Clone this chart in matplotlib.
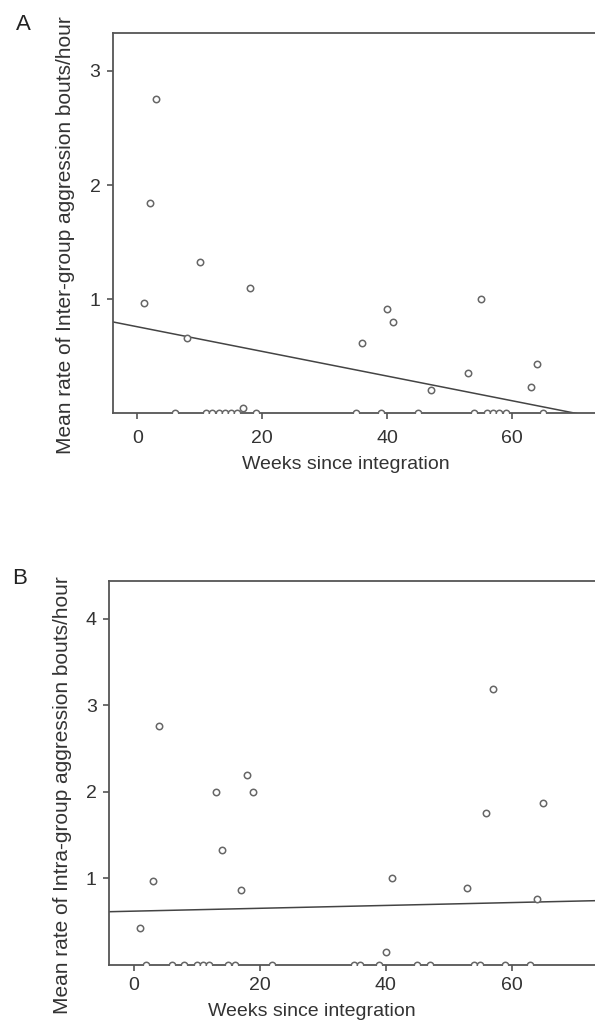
import matplotlib.pyplot as plt

plt.rcParams['font.family'] = ['Liberation Sans', 'DejaVu Sans']

# Panel A: inter-group aggression (weeks since integration, bouts/hour)
weeks_a = [1, 2, 3, 8, 10, 17, 18, 36, 40, 41, 47, 53, 55, 63, 64,
           6, 11, 12, 13, 14, 15, 16, 19, 35, 39, 45, 54, 56, 57, 58, 59, 65]
rate_a = [0.97, 1.84, 2.75, 0.66, 1.33, 0.05, 1.10, 0.62, 0.91, 0.80, 0.20, 0.35, 1.00, 0.23, 0.43,
          0, 0, 0, 0, 0, 0, 0, 0, 0, 0, 0, 0, 0, 0, 0, 0, 0]
fit_a = (0.758, -0.0108)  # intercept, slope

# Panel B: intra-group aggression
weeks_b = [1, 3, 4, 13, 14, 17, 18, 19, 40, 41, 53, 56, 57, 64, 65,
           2, 6, 8, 10, 11, 12, 15, 16, 22, 35, 36, 39, 45, 47, 54, 55, 59, 63]
rate_b = [0.43, 0.97, 2.76, 2.0, 1.33, 0.87, 2.20, 2.0, 0.15, 1.0, 0.89, 1.76, 3.19, 0.76, 1.87,
          0, 0, 0, 0, 0, 0, 0, 0, 0, 0, 0, 0, 0, 0, 0, 0, 0, 0]
fit_b = (0.622, 0.00165)

xlim = (-3.9, 73.8)
grey = '#555555'

fig = plt.figure(figsize=(5.95, 10.28), dpi=100)
ax_a = fig.add_axes([0.190, 0.598, 0.815, 0.3696])
ax_b = fig.add_axes([0.1837, 0.0613, 0.822, 0.3738])

panels = [
    (ax_a, weeks_a, rate_a, fit_a, 3.33, [1, 2, 3],
     'Mean rate of Inter-group aggression bouts/hour', (-0.079, 0.468), (0.48, -0.113), 8),
    (ax_b, weeks_b, rate_b, fit_b, 4.44, [1, 2, 3, 4],
     'Mean rate of Intra-group aggression bouts/hour', (-0.076, 0.443), (0.414, -0.10), 5),
]

for ax, wk, rt, fit, ymax, yt, ylab, ylc, xlc, xpad in panels:
    ax.plot(wk, rt, 'o', ms=4.6, mfc='white', mec='#666666', mew=1.1, zorder=3)
    ax.plot(xlim, [fit[0] + fit[1] * x for x in xlim], color='#444444', lw=1.1, zorder=2)
    ax.set_xlim(xlim)
    ax.set_ylim(0, ymax)
    ax.set_xticks([0, 20, 40, 60])
    ax.set_yticks(yt)
    for s in ax.spines.values():
        s.set_color(grey)
        s.set_linewidth(1.3)
    ax.tick_params(direction='out', length=4, width=1.2, color=grey,
                   labelsize=14, labelcolor='#333333', pad=5)
    ax.tick_params(axis='x', pad=xpad)
    ax.set_ylabel(ylab, fontsize=15, color='#333333')
    ax.set_xlabel('Weeks since integration', fontsize=14, color='#333333')
    ax.yaxis.set_label_coords(*ylc)
    ax.xaxis.set_label_coords(*xlc)

fig.text(23 / 595, 1 - 25 / 1028, 'A', fontsize=16, color='#222222', ha='center', va='center')
fig.text(20 / 595, 1 - 578 / 1028, 'B', fontsize=16, color='#222222', ha='center', va='center')

fig.savefig('out.png', dpi=100)
